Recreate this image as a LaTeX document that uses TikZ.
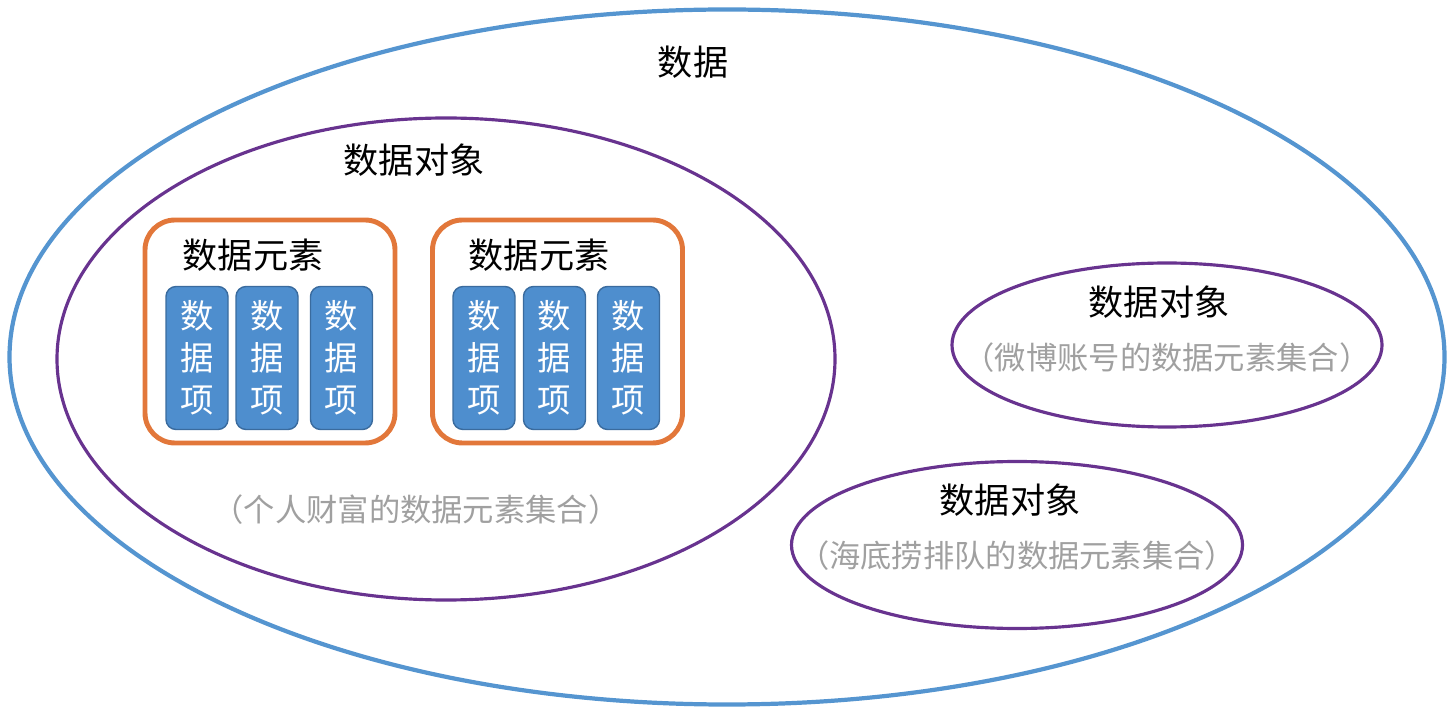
\documentclass[tikz,border=0pt]{standalone}
\usepackage{fontspec}
\setmainfont{Noto Sans CJK SC}
\usetikzlibrary{shapes.geometric}
\definecolor{outerBlue}{HTML}{5595D0}
\definecolor{objPurple}{HTML}{68338F}
\definecolor{elemOrange}{HTML}{E2773A}
\definecolor{itemFill}{HTML}{4E8ECE}
\definecolor{itemLine}{HTML}{3A6B9E}
\definecolor{noteGray}{HTML}{A0A0A0}

\begin{document}
\begin{tikzpicture}[font=\fontsize{10}{12}\selectfont]

    \useasboundingbox (0,0) rectangle (14.55,7.10);

    \def\itemw{0.62}
    \def\itemh{1.43}
    \tikzset{
        set/.style={ellipse, draw, inner sep=0pt},
        elembox/.style={draw=elemOrange, line width=1.4pt, rounded corners=0.3cm,
            minimum width=2.5cm, minimum height=2.23cm},
        itembox/.style={draw=itemLine, fill=itemFill, text=white, rounded corners=0.1cm,
            minimum width=\itemw cm, minimum height=\itemh cm, inner sep=0pt, align=center,
            font=\fontsize{9.5}{12}\selectfont},
        note/.style={text=noteGray, font=\fontsize{8.9}{10}\selectfont}
    }

    % the whole data
    \node[set, draw=outerBlue, line width=1.2pt, minimum width=14.35cm, minimum height=6.95cm]
        (data) at (7.27,3.53) {};
    \node (datalabel) at (6.93,6.48) {数据};

    % three data objects
    \node[set, draw=objPurple, line width=0.9pt, minimum width=7.78cm, minimum height=4.82cm]
        (wealth) at (4.46,3.51) {};
    \node[set, draw=objPurple, line width=0.9pt, minimum width=4.30cm, minimum height=1.64cm]
        (weibo) at (11.67,3.65) {};
    \node[set, draw=objPurple, line width=0.9pt, minimum width=4.51cm, minimum height=1.67cm]
        (queue) at (10.17,1.65) {};

    \node (wealthtitle) at (4.14,5.50) {数据对象};
    \node[note] (wealthnote) at (4.16,2.00) {（个人财富的数据元素集合）};
    \node (weibotitle) at (11.59,4.08) {数据对象};
    \node[note] (weibonote) at (11.67,3.52) {（微博账号的数据元素集合）};
    \node (queuetitle) at (10.10,2.10) {数据对象};
    \node[note] (queuenote) at (10.17,1.54) {（海底捞排队的数据元素集合）};

    % data elements with their items
    \node[elembox] (elemA) at (2.70,3.785) {};
    \node[elembox] (elemB) at (5.575,3.785) {};
    \node (elemAlabel) at (2.53,4.55) {数据元素};
    \node (elemBlabel) at (5.39,4.55) {数据元素};

    \foreach \x [count=\i] in {1.97,2.67,3.415,4.84,5.545,6.285}
        \node[itembox] (item\i) at (\x,3.52) {数\\据\\项};

\end{tikzpicture}
\end{document}
